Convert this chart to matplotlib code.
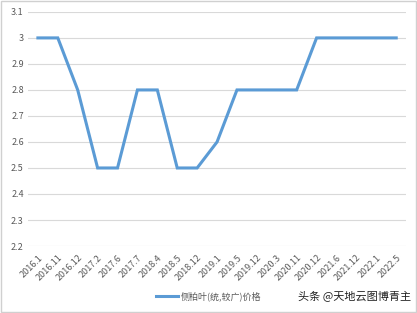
import matplotlib.pyplot as plt
from matplotlib.patches import Rectangle

plt.rcParams['font.family'] = ['Noto Sans CJK SC', 'DejaVu Sans']

# Data
dates = ["2016.1", "2016.11", "2016.12", "2017.2", "2017.6", "2017.7", "2018.4",
         "2018.5", "2018.12", "2019.1", "2019.5", "2019.12", "2020.3", "2020.11",
         "2020.12", "2021.6", "2021.12", "2022.1", "2022.5"]
price = [3, 3, 2.8, 2.5, 2.5, 2.8, 2.8, 2.5, 2.5, 2.6, 2.8, 2.8, 2.8, 2.8,
         3, 3, 3, 3, 3]
series_name = "侧柏叶(统,较广)价格"
yticks = [2.2, 2.3, 2.4, 2.5, 2.6, 2.7, 2.8, 2.9, 3, 3.1]

fig = plt.figure(figsize=(4.17, 3.13), dpi=100)
ax = fig.add_axes([0.067, 0.214, 0.907, 0.748])

x = list(range(len(dates)))
line, = ax.plot(x, price, color='#5B9BD5', linewidth=2.2, solid_joinstyle='miter',
                label=series_name)

ax.set_xlim(-0.5, len(dates) - 0.5)
ax.set_ylim(2.2, 3.1)
ax.set_yticks(yticks)
ax.set_yticklabels([f"{v:g}" for v in yticks])
ax.set_xticks(x)
ax.set_xticklabels(dates, rotation=45, ha='right', rotation_mode='anchor')

ax.grid(axis='y', color='#D9D9D9', linewidth=0.8)
ax.set_axisbelow(True)
for s in ax.spines.values():
    s.set_visible(False)
ax.tick_params(length=0, labelsize=6.5, colors='#595959', pad=3)
ax.tick_params(axis='x', pad=5)

leg = fig.legend(handles=[line], loc='center', bbox_to_anchor=(0.5, 0.052),
                 frameon=False, fontsize=6.5, handlelength=2.5, handletextpad=0.3)
for t in leg.get_texts():
    t.set_color('#595959')

fig.text(0.985, 0.052, "头条 @天地云图博青主", ha='right', va='center',
         fontsize=8, color='#222222')

fig.patches.append(Rectangle((0.003, 0.003), 0.994, 0.994, transform=fig.transFigure,
                             fill=False, edgecolor='#D0D0D0', linewidth=1))

plt.savefig("out.png", dpi=100)
